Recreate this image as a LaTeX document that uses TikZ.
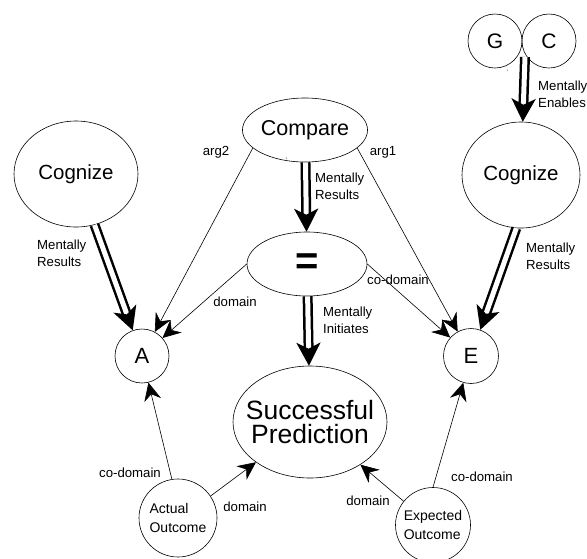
\documentclass[tikz,border=0pt]{standalone}
\usepackage{fontspec}
\setmainfont{Liberation Sans}
\usetikzlibrary{shapes.geometric,arrows.meta}

\begin{document}
\begin{tikzpicture}[x=1pt,y=-1pt,
  oval/.style={draw, ellipse, line width=0.6pt, inner sep=0pt},
  ring/.style={draw, circle, line width=0.6pt, inner sep=0pt},
  big/.style={font=\fontsize{20.5}{24}\selectfont},
  lbl/.style={font=\fontsize{13.2}{17}\selectfont, inner sep=0pt, align=left},
  thinarrow/.style={line width=0.6pt, -{Stealth[length=18pt,width=17pt,inset=6pt]}},
  dblarrow/.style={double, double distance=5pt, line width=2.5pt,
    -{Stealth[length=23pt,width=24pt,inset=6pt]}},
]
\useasboundingbox (0,0) rectangle (587,558);
\fill[white] (0,0) rectangle (587,558);

% event and state nodes
\node[oval, big, minimum width=124pt, minimum height=106pt] (lcog) at (76,174) {Cognize};
\node[oval, big, minimum width=118pt, minimum height=106pt] (rcog) at (521,175) {Cognize};
\node[oval, font=\fontsize{21.5}{24}\selectfont, minimum width=122pt, minimum height=64pt] (cmp) at (305,130) {Compare};
\node[oval, minimum width=120pt, minimum height=64pt, font=\fontsize{40}{40}\bfseries] (eq) at (307,264) {=};
\node[oval, minimum width=154pt, minimum height=112pt] (sp) at (310,422) {};
\node[align=center, inner sep=0pt, font=\fontsize{26.5}{24.5}\selectfont] (sptext) at (sp.center) {Successful\\Prediction};
\node[ring, minimum size=54pt, font=\fontsize{22}{24}\selectfont] (A) at (142,356) {A};
\node[ring, minimum size=55pt, font=\fontsize{22}{24}\selectfont] (E) at (471,356) {E};
\node[ring, minimum size=54pt, font=\fontsize{21}{24}\selectfont] (G) at (495,41) {G};
\node[ring, minimum size=54pt, font=\fontsize{21}{24}\selectfont] (C) at (549,41) {C};
\node[ring, minimum size=78pt, align=left, font=\fontsize{14}{19}\selectfont] (ao) at (178,518) {Actual\\Outcome};
\node[ring, minimum size=75pt, align=left, font=\fontsize{14}{19}\selectfont] (eo) at (433,525) {Expected\\Outcome};
\coordinate (gc) at (525,57);

% mental links
\draw[dblarrow] (gc) -- (rcog);
\draw[dblarrow] (cmp) -- (eq);
\draw[dblarrow] (eq) -- (sp);
\draw[dblarrow] (lcog.290) -- (A);
\draw[dblarrow] (rcog.265) -- (E);

% argument links
\draw[thinarrow] (cmp.199) -- (A);
\draw[thinarrow] (cmp.341) -- (E);
\draw[thinarrow] (eq.west) -- (A);
\draw[thinarrow] (eq.east) -- (E);
\draw[thinarrow] (ao.99) -- (A);
\draw[thinarrow] (ao.34) -- (sp);
\draw[thinarrow] (eo.north) -- (E);
\draw[thinarrow] (eo.141) -- (sp);

% link labels
\node[lbl, anchor=west] (l1) at (538,94) {Mentally\\Enables};
\node[lbl] (l2) at (216,152) {arg2};
\node[lbl] (l3) at (383,152) {arg1};
\node[lbl, anchor=west] (l4) at (315,186) {Mentally\\Results};
\node[lbl, anchor=west] (l5) at (37,253) {Mentally\\Results};
\node[lbl, anchor=west] (l6) at (526,256) {Mentally\\Results};
\node[lbl] (l7) at (235,302) {domain};
\node[lbl, anchor=west] (l8) at (367,280) {co-domain};
\node[lbl, anchor=west] (l9) at (323,320) {Mentally\\Initiates};
\node[lbl] (l10) at (130,473) {co-domain};
\node[lbl] (l11) at (245,507) {domain};
\node[lbl] (l12) at (368,501) {domain};
\node[lbl, anchor=west] (l13) at (451,477) {co-domain};

% stray specks
\draw[line width=0.5pt, gray] (507,69) -- (507.5,71);
\draw[line width=0.5pt, gray] (286,157) -- (286.5,159);
\end{tikzpicture}
\end{document}
